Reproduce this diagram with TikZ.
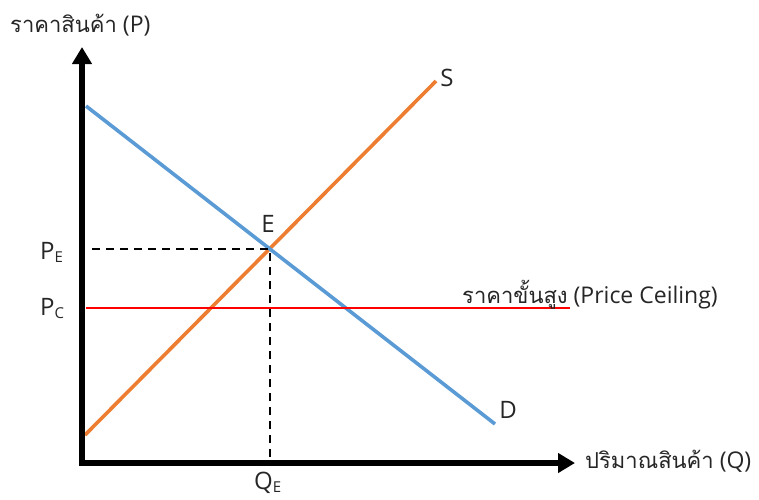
\documentclass[tikz,border=0pt]{standalone}
\usepackage{fontspec}
\setmainfont{Open Sans}
\newfontfamily\thaifont[Script=Thai]{Loma}
\newcommand{\thaitxt}[1]{{\thaifont\fontsize{22}{26}\selectfont #1}}
\usetikzlibrary{arrows.meta}
\definecolor{sblue}{HTML}{5B9BD5}
\definecolor{sorange}{HTML}{ED7D31}
\definecolor{sred}{HTML}{FF0000}
\tikzset{
  axis/.style={line width=5.5pt,-{Triangle[length=17pt,width=19pt]}},
  curve/.style={line width=3.6pt},
  guide/.style={line width=2.4pt,dash pattern=on 8pt off 6pt},
  lbl/.style={inner sep=0pt,font=\fontsize{23}{27}\selectfont,text=black!85},
  plbl/.style={inner sep=0pt,font=\fontsize{24}{28}\selectfont,text=black!85,anchor=base west}
}
\newcommand{\subE}[1]{\raisebox{-0.3ex}{\fontsize{15}{17}\selectfont #1}}
\begin{document}
\begin{tikzpicture}[x=1pt,y=-1pt]
\useasboundingbox (0,0) rectangle (759,499);
\coordinate (O) at (82,463);
\coordinate (Ytop) at (82,47);
\coordinate (Xend) at (575,463);
\coordinate (S0) at (85,435);
\coordinate (S1) at (436,81);
\coordinate (D0) at (86,106);
\coordinate (D1) at (495,424);
\coordinate (E) at (270,249);
\coordinate (PEl) at (92,249);
\coordinate (QEb) at (270,463);
\coordinate (C0) at (86,308);
\coordinate (C1) at (570,308);
% curves
\draw[curve,sorange] (S0) -- (S1);
\draw[curve,sblue] (D0) -- (D1);
\draw[line width=2.6pt,sred] (C0) -- (C1);
\draw[guide] (PEl) -- (E) -- (QEb);
% axes
\draw[axis] (82,465.75) -- (Ytop);
\draw[axis] (79.25,463) -- (Xend);
% labels
\node[lbl,anchor=base west] (ylab) at (10,32) {\thaitxt{ราคาสินค้า} (P)};
\node[lbl,anchor=base west] (xlab) at (585,468) {\thaitxt{ปริมาณสินค้า} (Q)};
\node[lbl,anchor=base west] (clab) at (462,303) {\thaitxt{ราคาขั้นสูง} (Price Ceiling)};
\node[plbl,anchor=base] (Slab) at (447,86) {S};
\node[plbl,anchor=base] (Dlab) at (508,418) {D};
\node[plbl,anchor=base] (Elab) at (268,232) {E};
\node[plbl] (PE) at (40,259) {P\subE{E}};
\node[plbl] (PC) at (40,315) {P\subE{C}};
\node[plbl] (QE) at (254,489) {Q\subE{E}};
\end{tikzpicture}
\end{document}
